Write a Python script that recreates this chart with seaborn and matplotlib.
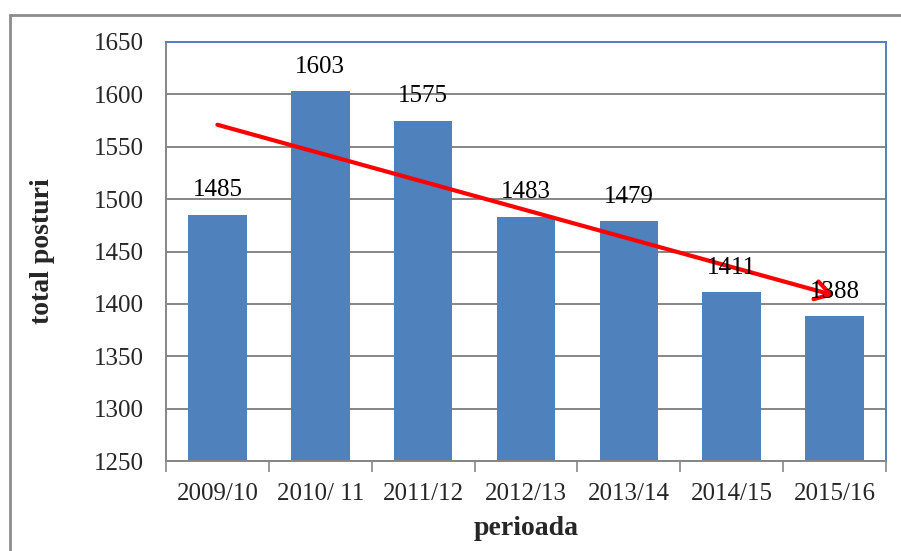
import numpy as np
import pandas as pd
import seaborn as sns
import matplotlib.pyplot as plt
from matplotlib.lines import Line2D

# Data
periods = ["2009/10", "2010/ 11", "2011/12", "2012/13", "2013/14", "2014/15", "2015/16"]
posts = [1485, 1603, 1575, 1483, 1479, 1411, 1388]

# Trend arrow (start and end value, first to last period)
trend_values = [1571, 1408]

y_ticks = list(range(1250, 1651, 50))


def main():
    sns.set_style("white")
    plt.rcParams["font.family"] = ["Liberation Serif", "DejaVu Serif"]

    df = pd.DataFrame({"perioada": periods, "total posturi": posts})

    fig = plt.figure(figsize=(9.01, 5.51), dpi=100)
    ax = fig.add_axes([0.1842, 0.1633, 0.7992, 0.7605])

    sns.barplot(data=df, x="perioada", y="total posturi", color="#4F81BD",
                saturation=1, width=0.57, linewidth=0, ax=ax, zorder=2)

    ax.set_ylim(y_ticks[0], y_ticks[-1])
    ax.set_yticks(y_ticks)
    ax.yaxis.grid(True, color="#868686", linewidth=1.4, zorder=0)
    ax.set_axisbelow(True)

    # value labels
    for i, v in enumerate(posts):
        ax.text(i, v + 13, str(v), ha="center", va="bottom", fontsize=18,
                color="black", zorder=4)

    # trend arrow
    ax.annotate("", xy=(len(periods) - 1, trend_values[1]),
                xytext=(0, trend_values[0]),
                arrowprops=dict(arrowstyle="->,head_length=0.5,head_width=0.3",
                                color="#FF0000", lw=3, mutation_scale=22,
                                shrinkA=0, shrinkB=0),
                zorder=3)

    # spines
    for side in ["left", "bottom"]:
        ax.spines[side].set_color("#868686")
        ax.spines[side].set_linewidth(1.4)
    for side in ["top", "right"]:
        ax.spines[side].set_color("#4F81BD")
        ax.spines[side].set_linewidth(1.4)

    # tick marks between categories
    ax.set_xticks(np.arange(-0.5, len(periods), 1), minor=True)
    ax.tick_params(axis="x", which="minor", length=8, width=1.2,
                   color="#868686", bottom=True)
    ax.tick_params(axis="x", which="major", length=0, pad=16, labelsize=18)
    ax.tick_params(axis="y", length=0, pad=16, labelsize=18)

    ax.set_xlabel("perioada", fontsize=20, fontweight="bold", labelpad=8)
    ax.set_ylabel("total posturi", fontsize=20, fontweight="bold", labelpad=28)

    # outer chart frame (top and left edges visible)
    fig.add_artist(Line2D([10 / 901, 1], [1 - 15 / 551, 1 - 15 / 551],
                          color="#8C8C8C", linewidth=2, transform=fig.transFigure))
    fig.add_artist(Line2D([10 / 901, 10 / 901], [0, 1 - 15 / 551],
                          color="#8C8C8C", linewidth=2, transform=fig.transFigure))

    fig.savefig("out.png", dpi=100)


if __name__ == "__main__":
    main()
